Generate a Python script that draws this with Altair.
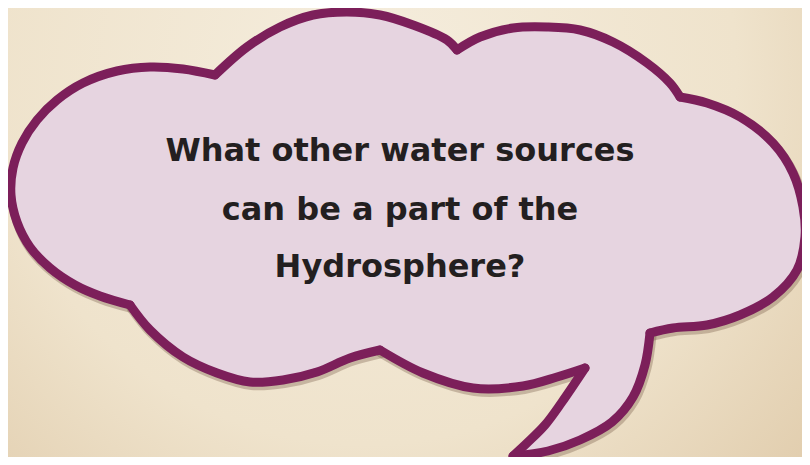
import altair as alt
import pandas as pd

# Plot area matches the reference picture minus the 8px page margin
W, H = 794, 449
OX, OY = 8, 8

# Outline of the speech bubble (centre of the purple stroke),
# one arc ("bump") per list, in clockwise order
top_left_bump_x = [215, 247, 280, 313, 347, 380, 413, 447, 457]
top_left_bump_y = [75, 47, 27, 15, 12, 15, 25, 40, 50]

top_right_bump_x = [457, 480, 513, 547, 580, 613, 647, 670, 680]
top_right_bump_y = [50, 37, 28, 27, 30, 42, 63, 83, 97]

right_bump_x = [680, 707, 740, 773, 793, 803, 805, 797, 773, 740, 707, 673, 650]
right_bump_y = [97, 103, 117, 143, 173, 207, 237, 270, 297, 315, 325, 328, 333]

tail_right_x = [650, 645, 633, 612, 580, 548, 513]
tail_right_y = [333, 365, 397, 422, 440, 451, 456]

tail_left_x = [513, 527, 545, 562, 585]
tail_left_y = [456, 443, 425, 402, 368]

bottom_right_bump_x = [585, 557, 523, 473, 423, 380]
bottom_right_bump_y = [368, 377, 386, 388, 373, 350]

bottom_left_bump_x = [380, 350, 317, 283, 250, 217, 183, 150, 130]
bottom_left_bump_y = [350, 358, 372, 380, 382, 373, 357, 330, 305]

left_bump_x = [130, 100, 75, 50, 30, 17, 11, 13, 22, 37, 57, 83, 117, 150, 183, 215]
left_bump_y = [305, 296, 285, 268, 247, 222, 195, 168, 143, 120, 100, 83, 71, 67, 69, 75]

# Question text, one entry per line
text_lines = ["What other water sources", "can be a part of the", "Hydrosphere?"]
text_x = [400, 400, 400]
text_y = [161, 220, 277]

segments = [
    ("top_left", top_left_bump_x, top_left_bump_y),
    ("top_right", top_right_bump_x, top_right_bump_y),
    ("right", right_bump_x, right_bump_y),
    ("tail_right", tail_right_x, tail_right_y),
    ("tail_left", tail_left_x, tail_left_y),
    ("bottom_right", bottom_right_bump_x, bottom_right_bump_y),
    ("bottom_left", bottom_left_bump_x, bottom_left_bump_y),
    ("left", left_bump_x, left_bump_y),
]

rows, fill_rows = [], []
for name, xs, ys in segments:
    for i, (x, y) in enumerate(zip(xs, ys)):
        rows.append({"seg": name, "i": i, "x": x, "y": y})
        if i > 0 or not fill_rows:
            fill_rows.append({"k": len(fill_rows), "x": x, "y": y})

outline_df = pd.DataFrame(rows)
fill_df = pd.DataFrame(fill_rows)
text_df = pd.DataFrame({"t": text_lines, "x": text_x, "y": text_y})

xsc = alt.Scale(domain=[OX, OX + W], nice=False, zero=False)
ysc = alt.Scale(domain=[OY, OY + H], reverse=True, nice=False, zero=False)

bg = alt.Chart(pd.DataFrame({"a": [0]})).mark_rect(
    color=alt.RadialGradient(
        gradient="radial",
        stops=[
            alt.GradientStop(offset=0, color="#f5eddd"),
            alt.GradientStop(offset=0.55, color="#efe3cc"),
            alt.GradientStop(offset=1, color="#dcc5a2"),
        ],
        x1=0.45, y1=0.3, r1=0, x2=0.45, y2=0.3, r2=0.85,
    )
).encode(x=alt.value(0), x2=alt.value(W), y=alt.value(0), y2=alt.value(H))

shadow = alt.Chart(outline_df).transform_calculate(
    sx="datum.x + 1.5", sy="datum.y + 3"
).mark_line(
    interpolate="catmull-rom", strokeWidth=10, color="#5a3a28", opacity=0.28,
    strokeCap="round", strokeJoin="round",
).encode(
    x=alt.X("sx:Q", scale=xsc, axis=None),
    y=alt.Y("sy:Q", scale=ysc, axis=None),
    detail="seg:N",
    order="i:Q",
)

fill = alt.Chart(fill_df).mark_line(
    fill="#e6d4e0", stroke="#e6d4e0", strokeWidth=1, interpolate="linear"
).encode(
    x=alt.X("x:Q", scale=xsc, axis=None),
    y=alt.Y("y:Q", scale=ysc, axis=None),
    order="k:Q",
)

outline = alt.Chart(outline_df).mark_line(
    interpolate="catmull-rom", strokeWidth=9, color="#7c1f5a",
    strokeCap="round", strokeJoin="round",
).encode(
    x=alt.X("x:Q", scale=xsc, axis=None),
    y=alt.Y("y:Q", scale=ysc, axis=None),
    detail="seg:N",
    order="i:Q",
)

text = alt.Chart(text_df).mark_text(
    font="DejaVu Sans", fontWeight="bold", fontSize=32, align="center",
    baseline="alphabetic", color="#231f20",
).encode(
    x=alt.X("x:Q", scale=xsc, axis=None),
    y=alt.Y("y:Q", scale=ysc, axis=None),
    text="t:N",
)

chart = alt.layer(bg, shadow, fill, outline, text).properties(
    width=W, height=H, padding=0, autosize="none", background="#ecdfc8"
).configure_view(stroke=None)

chart.save("out.html", embed_options={"renderer": "svg", "actions": False})
